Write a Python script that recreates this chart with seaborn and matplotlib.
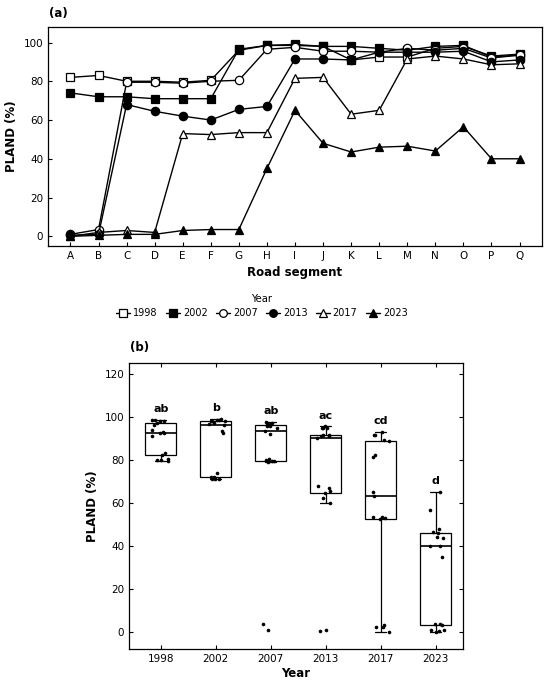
import numpy as np
import pandas as pd
import seaborn as sns
import matplotlib.pyplot as plt
from matplotlib.lines import Line2D

segments = list("ABCDEFGHIJKLMNOPQ")
years = ["1998", "2002", "2007", "2013", "2017", "2023"]

pland_1998 = [82, 83, 80, 80, 79.5, 80.5, 96, 98.5, 98.5, 98, 91, 92.5, 92.5, 97, 98, 93, 94]
pland_2002 = [74, 72, 72, 71, 71, 71, 96.5, 98.5, 99, 98, 98, 97, 96, 98, 98.5, 92.5, 93.5]
pland_2007 = [1, 3.5, 79.5, 79.5, 79, 80, 80.5, 96.5, 97.5, 95.5, 95.5, 95, 97, 96, 97, 92, 93.5]
pland_2013 = [0.5, 1, 68, 64.5, 62, 60, 65.5, 67, 91.5, 91.5, 91, 95, 95, 95, 95.5, 90, 91]
pland_2017 = [0, 2, 3, 2, 53, 52.5, 53.5, 53.5, 81.5, 82, 63, 65, 91.5, 93, 91.5, 88.5, 89]
pland_2023 = [0, 0.5, 1, 1, 3, 3.5, 3.5, 35, 65, 48, 43.5, 46, 46.5, 44, 56.5, 40, 40]

letters = ["ab", "b", "ab", "ac", "cd", "d"]

series = [pland_1998, pland_2002, pland_2007, pland_2013, pland_2017, pland_2023]
df = pd.DataFrame({
    "Segment": segments * len(years),
    "Year": [y for y in years for _ in segments],
    "PLAND": [v for s in series for v in s],
})

markers = ["s", "s", "o", "o", "^", "^"]
faces = ["white", "black", "white", "black", "white", "black"]

sns.set_style("ticks")
plt.rcParams["font.family"] = ["DejaVu Sans"]
plt.rcParams.update({
    "axes.linewidth": 0.9,
    "axes.edgecolor": "black",
    "axes.labelcolor": "black",
    "text.color": "black",
    "xtick.color": "black",
    "ytick.color": "black",
})

fig = plt.figure(figsize=(5.5, 6.82), dpi=100)
ax1 = fig.add_axes([48 / 550, 1 - 246 / 682, 494 / 550, 219 / 682])
ax2 = fig.add_axes([129 / 550, 1 - 649 / 682, 334 / 550, 286 / 682])

# panel (a)
handles = []
for yr, mk, fc in zip(years, markers, faces):
    sub = df[df["Year"] == yr]
    sns.lineplot(data=sub, x="Segment", y="PLAND", ax=ax1, estimator=None,
                 color="black", lw=1.0, marker=mk, markersize=6,
                 markerfacecolor=fc, markeredgecolor="black", markeredgewidth=0.9)
    handles.append(Line2D([], [], color="black", lw=1.0, marker=mk, markersize=5.5,
                          markerfacecolor=fc, markeredgecolor="black",
                          markeredgewidth=0.9, label=yr))
ax1.set_xlim(-0.8, 16.8)
ax1.set_ylim(-5, 108)
ax1.set_yticks([0, 20, 40, 60, 80, 100])
ax1.set_xlabel("Road segment", fontsize=8.5, fontweight="bold", labelpad=4)
ax1.set_ylabel("PLAND (%)", fontsize=8.5, fontweight="bold")
ax1.tick_params(direction="in", length=3, labelsize=7.5, width=0.8)
ax1.text(0.003, 1.03, "(a)", transform=ax1.transAxes, fontsize=8.5,
         fontweight="bold", ha="left", va="bottom")

fig.legend(handles=handles, loc="center", bbox_to_anchor=(262 / 550, 1 - 306 / 682),
           ncol=6, title="Year", frameon=False, fontsize=7, title_fontsize=7.2,
           handlelength=1.4, handletextpad=0.3, columnspacing=0.9)

# panel (b)
sns.boxplot(data=df, x="Year", y="PLAND", ax=ax2, order=years, width=0.56,
            color="white", linecolor="black", linewidth=0.9, showfliers=False,
            medianprops={"color": "black", "linewidth": 1.2})
# narrower whisker caps
for ln in ax2.lines:
    xs, ys = np.asarray(ln.get_xdata(), float), np.asarray(ln.get_ydata(), float)
    if len(xs) == 2 and ys[0] == ys[1] and abs(xs[1] - xs[0]) < 0.4:
        c = xs.mean()
        ln.set_xdata([c - 0.1, c + 0.1])
np.random.seed(3)
sns.stripplot(data=df, x="Year", y="PLAND", ax=ax2, order=years, color="black",
              size=2.6, jitter=0.17)
for i, yr in enumerate(years):
    top = df.loc[df["Year"] == yr, "PLAND"].max()
    ax2.text(i, top + 5, letters[i], ha="center", va="center", fontsize=8,
             fontweight="bold")
ax2.set_xlim(-0.58, 5.5)
ax2.set_ylim(-8, 125)
ax2.set_yticks([0, 20, 40, 60, 80, 100, 120])
ax2.set_xlabel("Year", fontsize=8.5, fontweight="bold", labelpad=2)
ax2.set_ylabel("PLAND (%)", fontsize=8.5, fontweight="bold")
ax2.tick_params(direction="in", length=3, labelsize=7.5, width=0.8,
                top=True, right=True)
for sp in ax2.spines.values():
    sp.set_visible(True)
ax2.text(0.003, 1.03, "(b)", transform=ax2.transAxes, fontsize=8.5,
         fontweight="bold", ha="left", va="bottom")

fig.savefig("out.png", dpi=100)
